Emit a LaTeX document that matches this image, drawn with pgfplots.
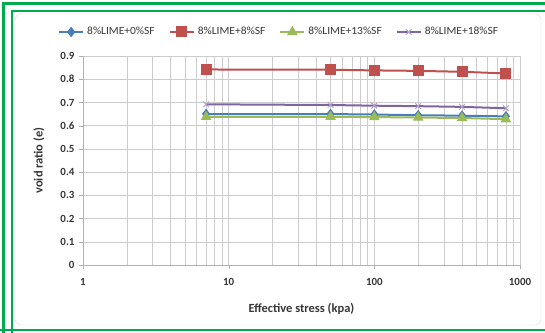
\documentclass[border=0pt]{standalone}
\usepackage{pgfplots}
\pgfplotsset{compat=1.18}
\usepackage{fontspec}
\setmainfont{Carlito}
\newfontfamily\legfont[FakeStretch=1.05]{Carlito}
\definecolor{frameg}{RGB}{0,170,80}
\definecolor{sblue}{RGB}{74,126,187}
\definecolor{sred}{RGB}{192,80,77}
\definecolor{sgreen}{RGB}{155,187,89}
\definecolor{spurple}{RGB}{128,100,162}
\definecolor{txt}{RGB}{55,55,55}
\begin{document}
\begin{tikzpicture}
\useasboundingbox (0bp,0bp) rectangle (545bp,333bp);
\fill[white] (0bp,0bp) rectangle (545bp,333bp);
\draw[gray!30, rounded corners=6bp] (15bp,8bp) rectangle (541bp,319bp);
% green frame
\draw[frameg, line width=3bp] (3.5bp,0bp) -- (3.5bp,329.5bp) -- (545bp,329.5bp);
\draw[frameg, line width=2.5bp] (0bp,3bp) -- (545bp,3bp);
\draw[frameg, line width=2bp] (11.5bp,0bp) -- (11.5bp,321.5bp) -- (545bp,321.5bp);
\begin{axis}[
  at={(83bp,68bp)}, anchor=south west, scale only axis,
  width=437bp, height=209bp,
  xmode=log, xmin=1, xmax=1000, ymin=0, ymax=0.9,
  xtick={1,10,100,1000}, xticklabels={1,10,100,1000},
  ytick={0,0.1,0.2,0.3,0.4,0.5,0.6,0.7,0.8,0.9},
  yticklabels={0,0.1,0.2,0.3,0.4,0.5,0.6,0.7,0.8,0.9},
  grid=both,
  major grid style={gray!40, line width=0.5pt},
  minor grid style={gray!40, line width=0.5pt},
  axis line style={gray!60},
  tick style={gray!60},
  tick align=outside,
  major tick length=4bp,
  minor tick length=0pt,
  ytick pos=left, xtick pos=bottom,
  axis x line*=bottom, axis y line*=left,
  ticklabel style={font=\fontsize{11}{12}\selectfont\bfseries, text=txt},
  yticklabel style={xshift=-1bp},
  xticklabel style={yshift=-6bp},
  /pgf/number format/assume math mode=true,
  xlabel={Effective stress (kpa)},
  ylabel={void ratio (e)},
  label style={font=\fontsize{12.5}{14}\selectfont\bfseries, text=txt},
  xlabel style={yshift=-11bp},
  ylabel style={yshift=9bp},
  legend columns=4,
  legend style={draw=none, fill=none, at={(0.449,1.115)}, anchor=center,
    font=\legfont\fontsize{11}{13}\selectfont, text=txt,
    /tikz/every odd column/.append style={column sep=1bp},
    /tikz/every even column/.append style={column sep=12bp}},
  legend image code/.code={
    \draw[#1, mark repeat=2, mark phase=2] plot coordinates {(0bp,0bp) (12bp,0bp) (24bp,0bp)};
  },
]
\addplot[sblue, line width=2bp, mark=diamond*, mark size=3.8bp, mark options={fill=sblue}]
  coordinates {(7,0.650) (50,0.650) (100,0.648) (200,0.645) (400,0.643) (800,0.640)};
\addlegendentry{8\%LIME+0\%SF}
\addplot[sred, line width=2bp, mark=square*, mark size=4.5bp, mark options={fill=sred}]
  coordinates {(7,0.842) (50,0.841) (100,0.838) (200,0.836) (400,0.832) (800,0.825)};
\addlegendentry{8\%LIME+8\%SF}
\addplot[sgreen, line width=2bp, mark=triangle*, mark size=4.2bp, mark options={fill=sgreen}]
  coordinates {(7,0.638) (50,0.638) (100,0.637) (200,0.635) (400,0.633) (800,0.628)};
\addlegendentry{8\%LIME+13\%SF}
\addplot[spurple, line width=2bp, mark=x, mark size=4bp, mark options={spurple!60, line width=0.9bp}]
  coordinates {(7,0.692) (50,0.689) (100,0.686) (200,0.684) (400,0.681) (800,0.675)};
\addlegendentry{8\%LIME+18\%SF}
\end{axis}
\end{tikzpicture}
\end{document}
